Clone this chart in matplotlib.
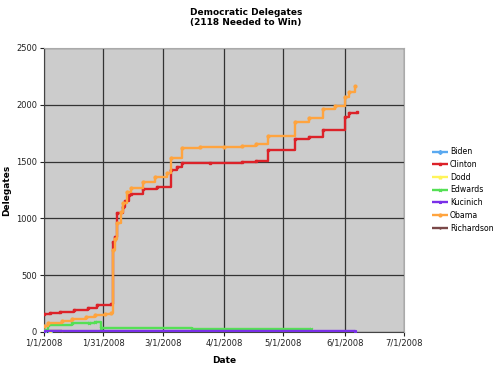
import matplotlib
matplotlib.use("Agg")
import matplotlib.pyplot as plt
import pandas as pd

# delegate counts (value holds until the next date)
clinton_dates = ["2008-01-01", "2008-01-04", "2008-01-09", "2008-01-16", "2008-01-23",
                 "2008-01-28", "2008-02-04", "2008-02-05", "2008-02-06", "2008-02-07",
                 "2008-02-10", "2008-02-11", "2008-02-13", "2008-02-14", "2008-02-20",
                 "2008-02-27", "2008-03-05", "2008-03-08", "2008-03-11", "2008-03-25",
                 "2008-04-10", "2008-04-17", "2008-04-23", "2008-05-07", "2008-05-14",
                 "2008-05-21", "2008-06-01", "2008-06-03", "2008-06-07"]
clinton_vals = [160, 170, 180, 195, 210, 235, 242, 790, 836, 1047, 1100, 1153, 1205, 1214,
                1258, 1276, 1425, 1450, 1487, 1490, 1500, 1505, 1602, 1695, 1716, 1782,
                1892, 1927, 1936]

obama_dates = ["2008-01-01", "2008-01-03", "2008-01-10", "2008-01-15", "2008-01-22",
               "2008-01-27", "2008-02-01", "2008-02-04", "2008-02-05", "2008-02-06",
               "2008-02-07", "2008-02-09", "2008-02-10", "2008-02-12", "2008-02-14",
               "2008-02-20", "2008-02-26", "2008-03-03", "2008-03-05", "2008-03-11",
               "2008-03-20", "2008-04-01", "2008-04-10", "2008-04-17", "2008-04-23",
               "2008-05-07", "2008-05-14", "2008-05-21", "2008-05-27", "2008-06-01",
               "2008-06-03", "2008-06-06"]
obama_vals = [55, 80, 100, 114, 135, 150, 160, 167, 722, 820, 959, 1056, 1135, 1232, 1267,
              1320, 1364, 1399, 1531, 1619, 1625, 1632, 1640, 1655, 1725, 1848, 1883, 1962,
              1989, 2068, 2112, 2165]

edwards_dates = ["2008-01-01", "2008-01-03", "2008-01-15", "2008-01-24", "2008-01-27",
                 "2008-01-30", "2008-03-16", "2008-05-15"]
edwards_vals = [18, 62, 75, 80, 88, 38, 26, 26]

kucinich_dates = ["2008-01-01", "2008-06-06"]
kucinich_vals = [5, 5]

biden_dates = ["2008-01-01", "2008-01-04"]
biden_vals = [3, 3]

dodd_dates = ["2008-01-01", "2008-01-04"]
dodd_vals = [3, 3]

richardson_dates = ["2008-01-01", "2008-01-10"]
richardson_vals = [12, 12]

x_ticks = ["2008-01-01", "2008-01-31", "2008-03-01", "2008-04-01",
           "2008-05-01", "2008-06-01", "2008-07-01"]
x_labels = ["1/1/2008", "1/31/2008", "3/1/2008", "4/1/2008",
            "5/1/2008", "6/1/2008", "7/1/2008"]

series = [
    ("Biden", biden_dates, biden_vals, "#5aa9f0", "D"),
    ("Clinton", clinton_dates, clinton_vals, "#dc2229", "s"),
    ("Dodd", dodd_dates, dodd_vals, "#fff45a", "^"),
    ("Edwards", edwards_dates, edwards_vals, "#55e055", "x"),
    ("Kucinich", kucinich_dates, kucinich_vals, "#7a30e8", "*"),
    ("Obama", obama_dates, obama_vals, "#ffa43f", "o"),
    ("Richardson", richardson_dates, richardson_vals, "#7a4848", "+"),
]

fig = plt.figure(figsize=(5, 3.66), dpi=100)
ax = fig.add_axes([0.088, 0.093, 0.72, 0.776])
ax.set_facecolor("#cccccc")

# draw order: small candidates first, the two leaders on top
order = ["Biden", "Dodd", "Richardson", "Edwards", "Kucinich", "Clinton", "Obama"]
handles = {}
for name in order:
    _, d, v, col, mk = [s for s in series if s[0] == name][0]
    d = pd.to_datetime(d)
    ln, = ax.plot(d, v, drawstyle="steps-post", color=col, lw=1.7,
                  marker=mk, markersize=2, label=name,
                  solid_capstyle="butt", zorder=3)
    handles[name] = ln

ax.set_xlim(pd.Timestamp("2008-01-01"), pd.Timestamp("2008-07-01"))
ax.set_ylim(0, 2500)
ax.set_xticks(pd.to_datetime(x_ticks))
ax.set_xticklabels(x_labels)
ax.set_yticks(range(0, 2501, 500))
ax.grid(True, color="#333333", lw=0.9, zorder=1)
ax.set_axisbelow(True)
ax.tick_params(labelsize=6, colors="#222222", length=3, width=0.8, pad=2)

for side in ["top", "right"]:
    ax.spines[side].set_color("#aaaaaa")
for side in ["left", "bottom"]:
    ax.spines[side].set_color("#444444")
    ax.spines[side].set_zorder(2)

ax.set_xlabel("Date", fontsize=6.5, fontweight="bold", labelpad=6)
ax.set_ylabel("Delegates", fontsize=6.5, fontweight="bold")
ax.yaxis.set_label_coords(-0.09, 0.5)

fig.text(0.492, 0.967, "Democratic Delegates", ha="center", va="center",
         fontsize=6.5, fontweight="bold")
fig.text(0.492, 0.938, "(2118 Needed to Win)", ha="center", va="center",
         fontsize=6.5, fontweight="bold")

leg = fig.legend([handles[s[0]] for s in series], [s[0] for s in series],
                 loc="center left", bbox_to_anchor=(0.85, 0.481), frameon=False,
                 fontsize=5.6, handlelength=2.0, handletextpad=0.3, labelspacing=0.48)

fig.savefig("out.png", dpi=100)
